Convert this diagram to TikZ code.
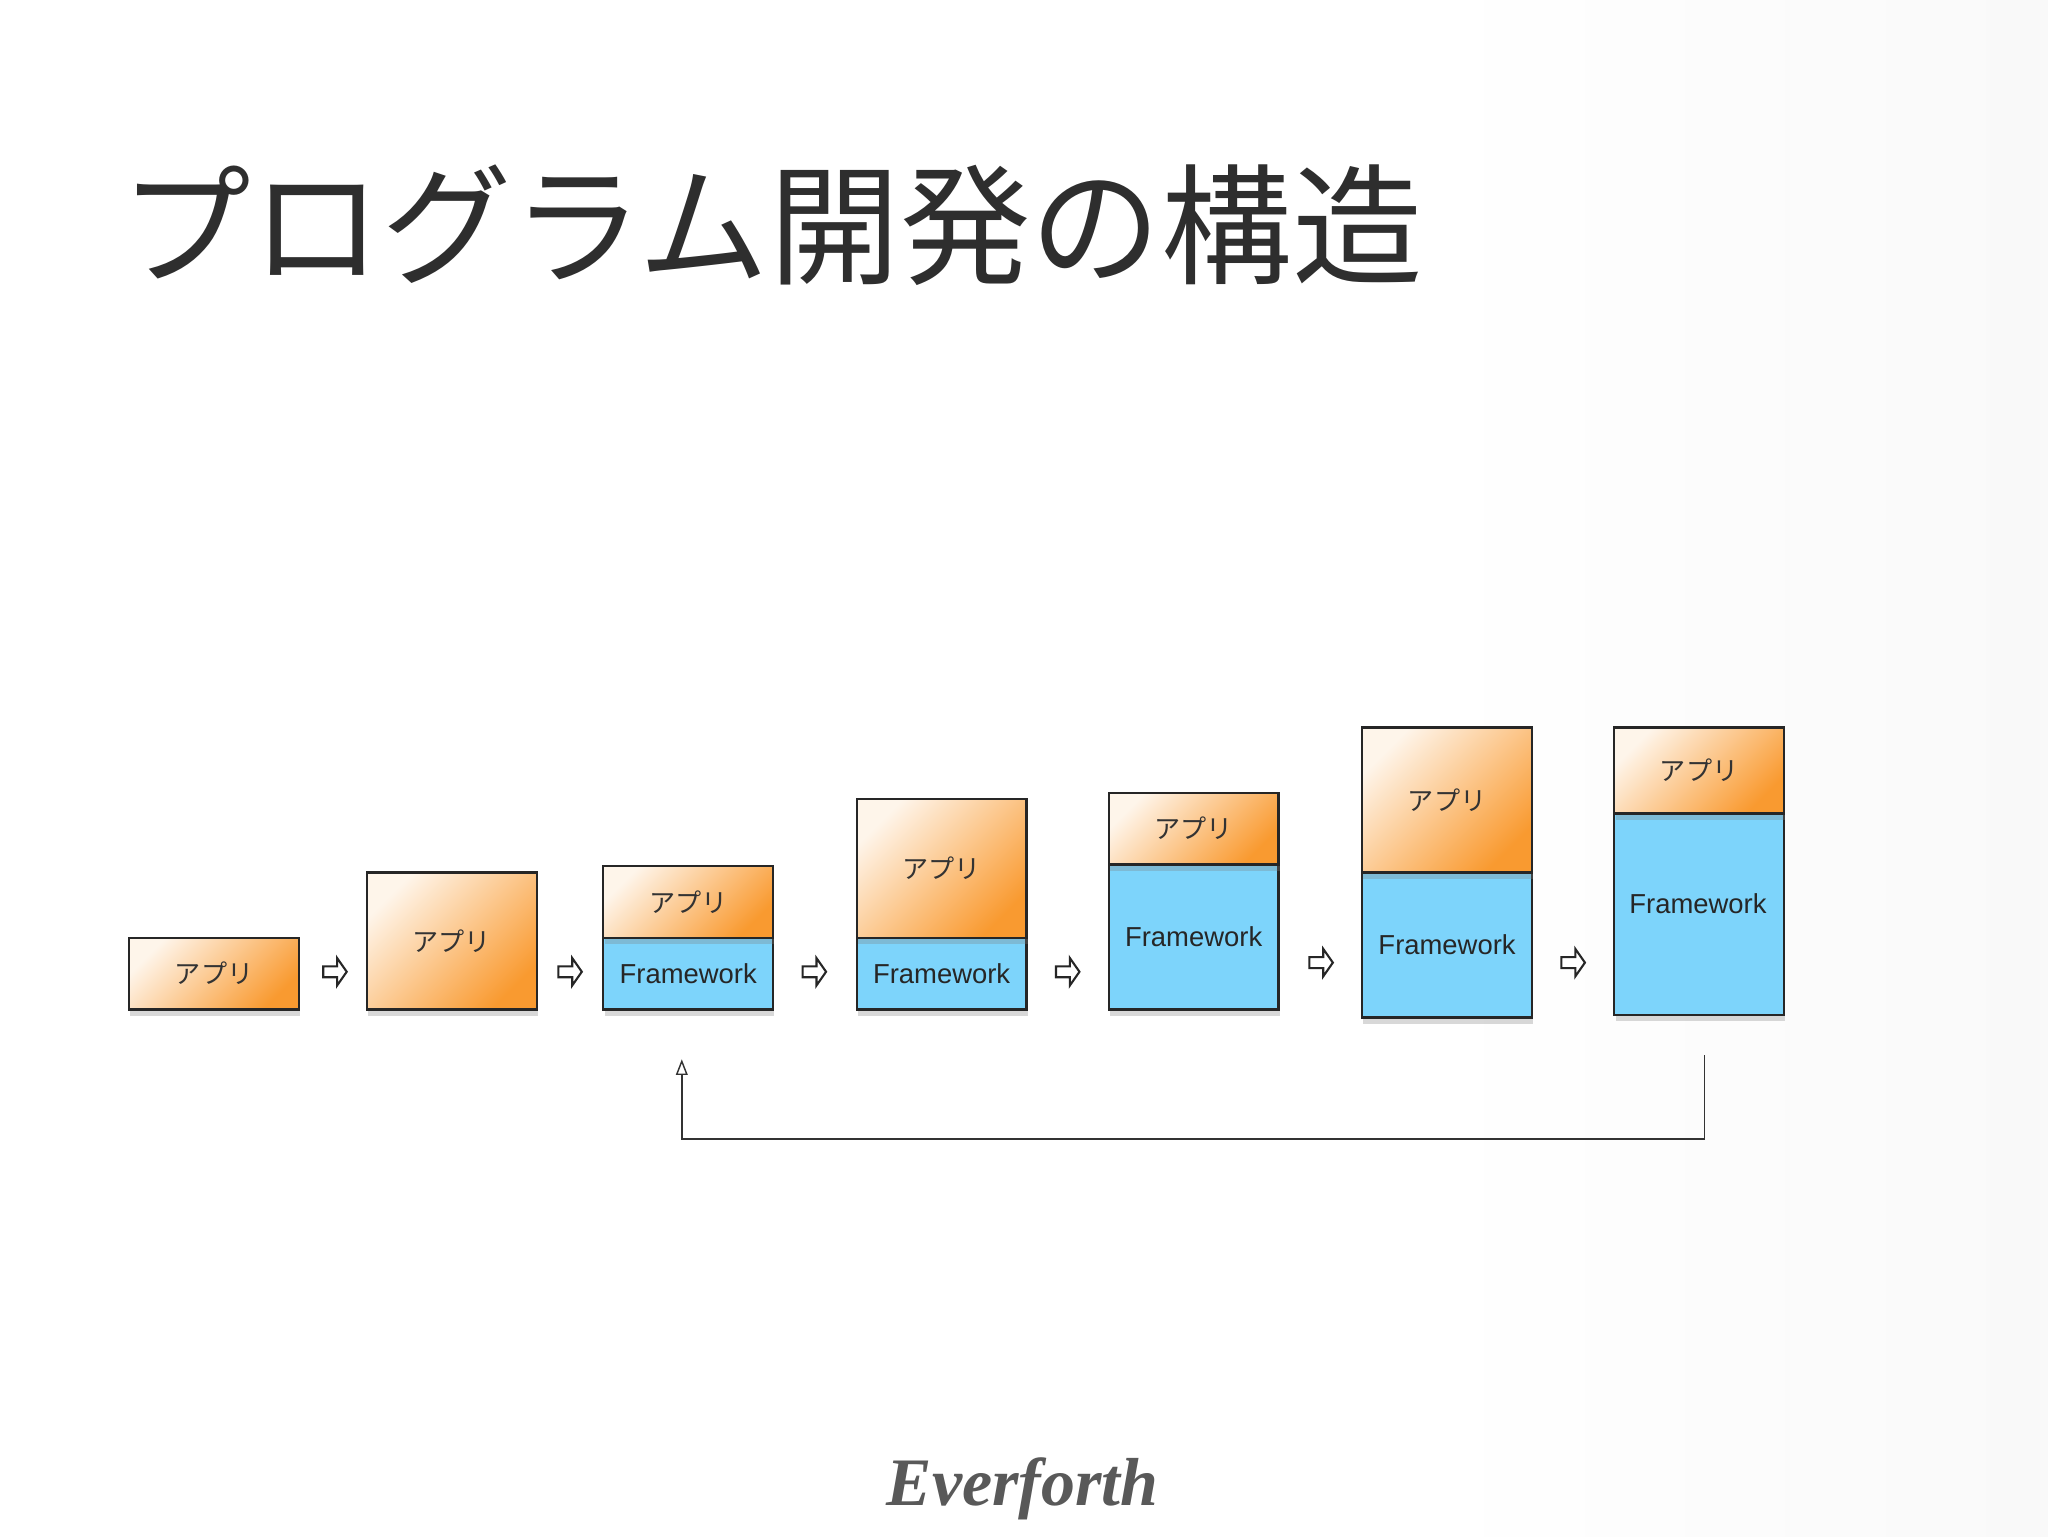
\documentclass[tikz,border=0pt]{standalone}
\usepackage{fontspec}
\setmainfont{Liberation Sans}
\newfontfamily\jp{Noto Sans CJK JP}
\newfontfamily\brand{Liberation Serif}
\usetikzlibrary{shadows,shapes.arrows,arrows.meta}
\definecolor{org}{HTML}{F99A30}
\definecolor{blu}{HTML}{7DD4FB}
\pgfdeclarehorizontalshading{bgshade}{100bp}{color(0bp)=(white); color(60bp)=(white); color(85bp)=(black!4); color(100bp)=(black!11)}
\tikzset{
 box/.style={draw=black!85, line width=1.8pt, anchor=north west, minimum width=130pt, inner sep=0pt,
   drop shadow={shadow xshift=1pt, shadow yshift=-5pt, opacity=0.3}},
 app/.style={box, top color=org!10, bottom color=org, shading angle=45, font=\jp\fontsize{20}{22}\selectfont, text=black!80},
 fw/.style={box, fill=blu, font=\fontsize{21}{24}\selectfont, text=black!85},
 sarrow/.style={single arrow, draw=black!85, line width=1.6pt, fill=white, minimum height=18pt, minimum width=21pt, single arrow head extend=3.5pt, inner sep=1.5pt, single arrow tip angle=110}
}
\begin{document}
\begin{tikzpicture}[x=1pt,y=-1pt]
\shade[shading=bgshade] (0,0) rectangle (1568,1176);
\useasboundingbox (0,0) rectangle (1568,1176);
\node[anchor=base west, font=\jp\fontsize{100}{108}\selectfont, text=black!82, inner sep=0pt] (title) at (92,210) {プログラム開発の構造};
% box 1
\node[app, minimum height=55pt] (a1) at (98,717) {アプリ};
% box 2
\node[app, minimum height=105pt] (a2) at (280,667) {アプリ};
% box 3
\node[fw, minimum height=55pt] (f3) at (461,717) {Framework};
\node[app, minimum height=55pt] (a3) at (461,662) {アプリ};
% box 4
\node[fw, minimum height=55pt] (f4) at (655,717) {Framework};
\node[app, minimum height=106pt] (a4) at (655,611) {アプリ};
% box 5
\node[fw, minimum height=111pt] (f5) at (848,661) {Framework};
\node[app, minimum height=55pt] (a5) at (848,606) {アプリ};
% box 6
\node[fw, minimum height=111pt] (f6) at (1042,667) {Framework};
\node[app, minimum height=111pt] (a6) at (1042,556) {アプリ};
% box 7
\node[fw, minimum height=154pt] (f7) at (1235,622) {};
\node[font=\fontsize{21}{24}\selectfont, text=black!85] (f7t) at (1300,692) {Framework};
\node[app, minimum height=66pt] (a7) at (1235,556) {アプリ};
% small arrows
\node[sarrow] (s1) at (255,744) {};
\node[sarrow] (s2) at (435,744) {};
\node[sarrow] (s3) at (622,744) {};
\node[sarrow] (s4) at (816,744) {};
\node[sarrow] (s5) at (1010,737) {};
\node[sarrow] (s6) at (1203,737) {};
% feedback
\coordinate (fbs) at (1305,808);
\coordinate (fbe) at (522,811);
\draw[line width=1.1pt, black!80, -{Triangle[open, length=12pt, width=9pt]}] (fbs) -- (1305,872) -| (fbe);
\node[font=\brand\itshape\bfseries\fontsize{52}{56}\selectfont, text=black!65] (brand) at (783,1140) {Everforth};
\end{tikzpicture}
\end{document}
